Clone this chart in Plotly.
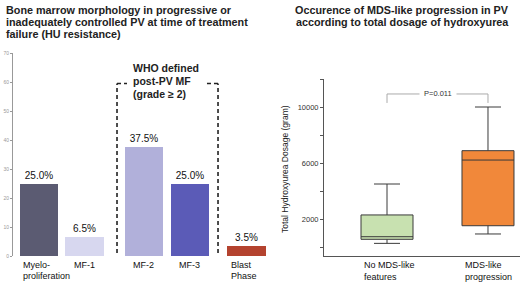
import plotly.graph_objects as go

# ---------------- data ----------------
bm_categories = ["Myelo-<br>proliferation", "MF-1", "MF-2", "MF-3", "Blast<br>Phase"]
bm_values = [25.0, 6.5, 37.5, 25.0, 3.5]
bm_colors = ["#5b5b72", "#d7d7ef", "#b1b0da", "#5b5bb7", "#b4432f"]

hu_groups = ["No MDS-like<br>features", "MDS-like<br>progression"]
hu_lowerfence = [260, 930]
hu_q1 = [550, 1520]
hu_median = [735, 6210]
hu_q3 = [2290, 6880]
hu_upperfence = [4500, 10000]
hu_colors = ["#c8e1b0", "#f1883a"]
p_text = "P=0.011"

left_title = ("Bone marrow morphology in progressive or<br>"
              "inadequately controlled PV at time of treatment<br>"
              "failure (HU resistance)")
right_title = ("Occurence of MDS-like progression in PV<br>"
               "according to total dosage of hydroxyurea")
who_text = "WHO defined<br>post-PV MF<br>(grade \u2265 2)"
y2_title = "Total Hydroxyurea Dosage (gram)"

# ---------------- layout helpers ----------------
W, H = 520, 283
def px(x):
    return x / W
def py(y):
    return (H - y) / H

bar_pos = [0, 0.99, 2.28, 3.28, 4.51]
bar_width = 0.83
label_anchor = ["left", "center", "center", "center", "left"]

fig = go.Figure()

fig.add_trace(go.Bar(
    x=bar_pos, y=bm_values, width=bar_width,
    marker=dict(color=bm_colors, line=dict(width=0)),
    text=[f"{v:.1f}%" for v in bm_values], textposition="outside",
    textfont=dict(size=10, color="#111", family="Liberation Sans"),
    cliponaxis=False, xaxis="x", yaxis="y", showlegend=False,
))

for i, g in enumerate(hu_groups):
    fig.add_trace(go.Box(
        x=[g], q1=[hu_q1[i]], median=[hu_median[i]], q3=[hu_q3[i]],
        lowerfence=[hu_lowerfence[i]], upperfence=[hu_upperfence[i]],
        fillcolor=hu_colors[i], line=dict(color="#3a3a3a", width=1),
        width=0.515, whiskerwidth=0.5, boxpoints=False,
        xaxis="x2", yaxis="y2", showlegend=False, hoverinfo="skip",
    ))

annotations = []

def add_lines(text, xref, x, y_first, spacing, xanchor, size, bold=False, color="#222"):
    for k, line in enumerate(text.split("<br>")):
        f = dict(size=size, family="Liberation Sans", color=color)
        if bold:
            f["weight"] = "bold"
        annotations.append(dict(text=line, xref=xref, yref="paper", x=x,
                                y=py(y_first + k * spacing), xanchor=xanchor,
                                yanchor="middle", showarrow=False, font=f))

# titles
add_lines(left_title, "paper", px(4), 10, 12, "left", 10.8, bold=True)
add_lines(right_title, "paper", px(402), 10, 12, "center", 10.8, bold=True)
add_lines(who_text, "paper", px(131), 68, 13, "left", 10.5, bold=True)

# left category labels
for i, c in enumerate(bm_categories):
    xa = bar_pos[i] - bar_width / 2 + 0.03 if label_anchor[i] == "left" else bar_pos[i]
    add_lines(c, "x", xa, 265, 10.5, label_anchor[i], 9, color="#111")
# right category labels
for i, g in enumerate(hu_groups):
    add_lines(g, "x2", i - 0.25, 265, 12, "left", 9, color="#111")

# y2 title
annotations.append(dict(text=y2_title, xref="paper", yref="paper", x=px(285), y=py(169),
                        xanchor="center", yanchor="middle", textangle=-90, showarrow=False,
                        font=dict(size=8.5, family="Liberation Sans", color="#222")))
# p-value
annotations.append(dict(text=p_text, xref="x2", yref="y2", x=0.5, y=10930,
                        xanchor="center", yanchor="middle", showarrow=False, bgcolor="white",
                        borderpad=4,
                        font=dict(size=7.5, family="Liberation Sans", color="#333")))

dash = dict(color="#222", width=1.6, dash="4px,3px")
shapes = [
    dict(type="line", xref="x", yref="y", x0=1.696, x1=1.696, y0=1, y1=59.5, line=dash),
    dict(type="line", xref="x", yref="y", x0=3.892, x1=3.892, y0=1, y1=59.5, line=dash),
    dict(type="line", xref="x", yref="y", x0=1.696, x1=1.913, y0=59.5, y1=59.5, line=dash),
    dict(type="line", xref="x", yref="y", x0=3.652, x1=3.892, y0=59.5, y1=59.5, line=dash),
    dict(type="path", xref="x2", yref="y2",
         path="M 0,10290 L 0,10930 L 1,10930 L 1,10290",
         line=dict(color="#aaa", width=1)),
]

fig.update_layout(
    width=W, height=H, margin=dict(l=0, r=0, t=0, b=0, autoexpand=False),
    paper_bgcolor="white", plot_bgcolor="white",
    font=dict(family="Liberation Sans"),
    bargap=0,
    xaxis=dict(domain=[px(13), px(270)], range=[-0.565, 5.022], visible=False,
               automargin=False),
    yaxis=dict(domain=[py(256), py(53)], range=[0, 70], tickvals=list(range(0, 71, 10)),
               showline=True, linecolor="#999", linewidth=1, ticks="outside", ticklen=2,
               tickcolor="#999", tickfont=dict(size=5, color="#999"), showgrid=False,
               zeroline=False, automargin=False),
    xaxis2=dict(domain=[px(324), 1], type="category", range=[-0.624, 1.317],
                showline=True, linecolor="#555", linewidth=1, showticklabels=False,
                ticks="", showgrid=False, anchor="y2", automargin=False),
    yaxis2=dict(domain=[py(256), py(79)], range=[-643, 12000], anchor="x2",
                tickvals=[0, 2000, 4000, 6000, 8000, 10000, 12000],
                ticktext=["", "2000", "", "6000", "", "10000", ""],
                showline=True, linecolor="#555", linewidth=1, ticks="outside", ticklen=3,
                tickcolor="#555", tickfont=dict(size=7.5, color="#333"), showgrid=False,
                zeroline=False, automargin=False),
    annotations=annotations, shapes=shapes,
)

fig.write_html("out.html", config={"displayModeBar": False},
               post_script="document.body.style.margin='0';document.body.style.padding='0';")
